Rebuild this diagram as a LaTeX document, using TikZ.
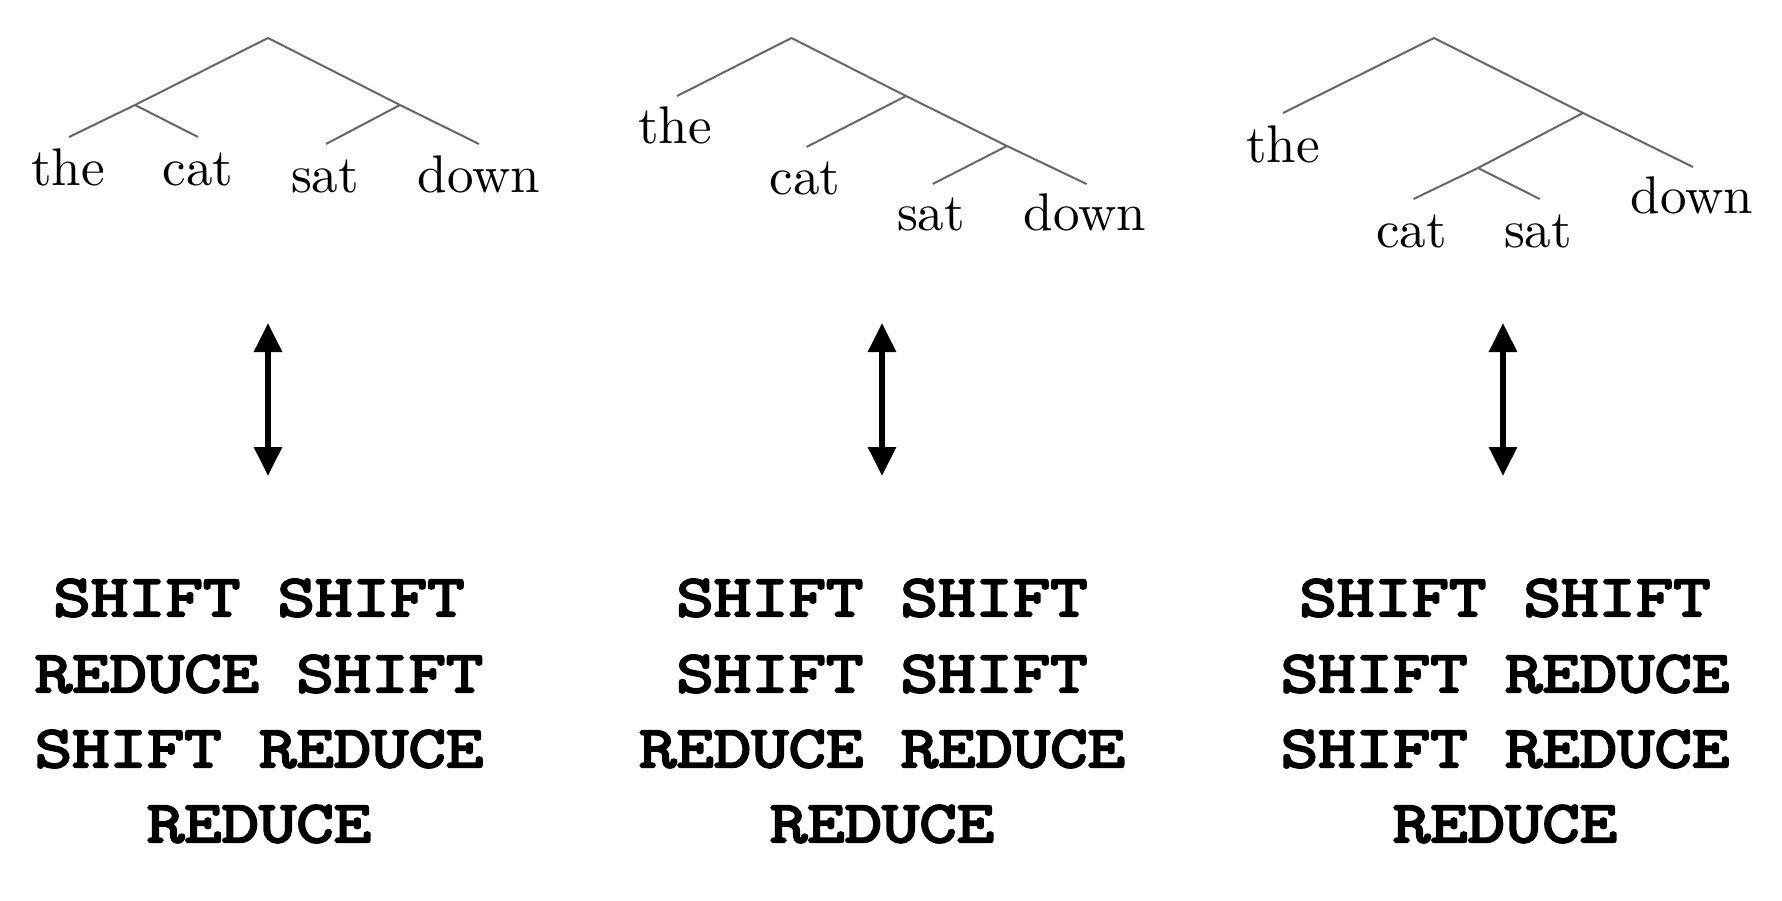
\documentclass[tikz,border=0pt]{standalone}
\usepackage{fontspec}
\newfontfamily\opfamily{Latin Modern Mono}[FakeBold=4, FakeStretch=1.23]
\usetikzlibrary{arrows.meta}
\newcommand{\treefont}{\fontsize{10}{12}\selectfont}
\newcommand{\opfont}{\opfamily\fontsize{59}{75}\selectfont}
\begin{document}
\begin{tikzpicture}[x=1pt,y=-1pt,
  branch/.style={draw=black!60, line width=2pt, line join=miter},
  leaf/.style={anchor=base, inner sep=0pt, font=\treefont, scale=5.3},
  opline/.style={anchor=base, inner sep=0pt, font=\opfont},
  dblarrow/.style={line width=6pt, {Triangle[length=29pt,width=27pt]}-{Triangle[length=29pt,width=27pt]}}]
\useasboundingbox (0,0) rectangle (1782,900);

% ---------- tree 1 ----------
\coordinate (t1r) at (268,38);
\coordinate (t1l) at (135,105);
\coordinate (t1n) at (400,105);
\coordinate (t1e1) at (69,137);
\coordinate (t1e2) at (198,137);
\coordinate (t1e3) at (326,144);
\coordinate (t1e4) at (479,144);
\draw[branch] (t1e1) -- (t1l) -- (t1r) -- (t1n) -- (t1e4);
\draw[branch] (t1l) -- (t1e2);
\draw[branch] (t1n) -- (t1e3);
\node[leaf] (t1the) at (68,185) {the};
\node[leaf] (t1cat) at (198,185) {cat};
\node[leaf] (t1sat) at (325,192) {sat};
\node[leaf] (t1down) at (479,192) {down};

% ---------- tree 2 ----------
\coordinate (t2r) at (791.5,38);
\coordinate (t2a) at (906,96);
\coordinate (t2b) at (1007,146);
\coordinate (t2e1) at (677,96);
\coordinate (t2e2) at (806.5,147);
\coordinate (t2e3) at (932.7,184);
\coordinate (t2e4) at (1086.5,184);
\draw[branch] (t2e1) -- (t2r) -- (t2a) -- (t2b) -- (t2e4);
\draw[branch] (t2a) -- (t2e2);
\draw[branch] (t2b) -- (t2e3);
\node[leaf] (t2the) at (675,143) {the};
\node[leaf] (t2cat) at (805,194) {cat};
\node[leaf] (t2sat) at (931,230) {sat};
\node[leaf] (t2down) at (1085,230) {down};

% ---------- tree 3 ----------
\coordinate (t3r) at (1434,38);
\coordinate (t3c) at (1583,113);
\coordinate (t3d) at (1478,168);
\coordinate (t3e1) at (1283,113);
\coordinate (t3e2) at (1413.5,199);
\coordinate (t3e3) at (1539.7,199);
\coordinate (t3e4) at (1693,167);
\draw[branch] (t3e1) -- (t3r) -- (t3c) -- (t3e4);
\draw[branch] (t3c) -- (t3d) -- (t3e2);
\draw[branch] (t3d) -- (t3e3);
\node[leaf] (t3the) at (1283,162) {the};
\node[leaf] (t3cat) at (1411.6,247) {cat};
\node[leaf] (t3sat) at (1538,247) {sat};
\node[leaf] (t3down) at (1692,213) {down};

% ---------- arrows ----------
\coordinate (a1t) at (268,323);
\coordinate (a1b) at (268,476);
\coordinate (a2t) at (882,323);
\coordinate (a2b) at (882,476);
\coordinate (a3t) at (1503,323);
\coordinate (a3b) at (1503,476);
\draw[dblarrow] (a1t) -- (a1b);
\draw[dblarrow] (a2t) -- (a2b);
\draw[dblarrow] (a3t) -- (a3b);

% ---------- action sequences ----------
\node[opline] (s1a) at (259,616) {SHIFT SHIFT};
\node[opline] (s1b) at (259,692) {REDUCE SHIFT};
\node[opline] (s1c) at (259,767) {SHIFT REDUCE};
\node[opline] (s1d) at (259,842) {REDUCE};

\node[opline] (s2a) at (882,616) {SHIFT SHIFT};
\node[opline] (s2b) at (882,692) {SHIFT SHIFT};
\node[opline] (s2c) at (882,767) {REDUCE REDUCE};
\node[opline] (s2d) at (882,842) {REDUCE};

\node[opline] (s3a) at (1505,616) {SHIFT SHIFT};
\node[opline] (s3b) at (1505,692) {SHIFT REDUCE};
\node[opline] (s3c) at (1505,767) {SHIFT REDUCE};
\node[opline] (s3d) at (1505,842) {REDUCE};
\end{tikzpicture}
\end{document}
